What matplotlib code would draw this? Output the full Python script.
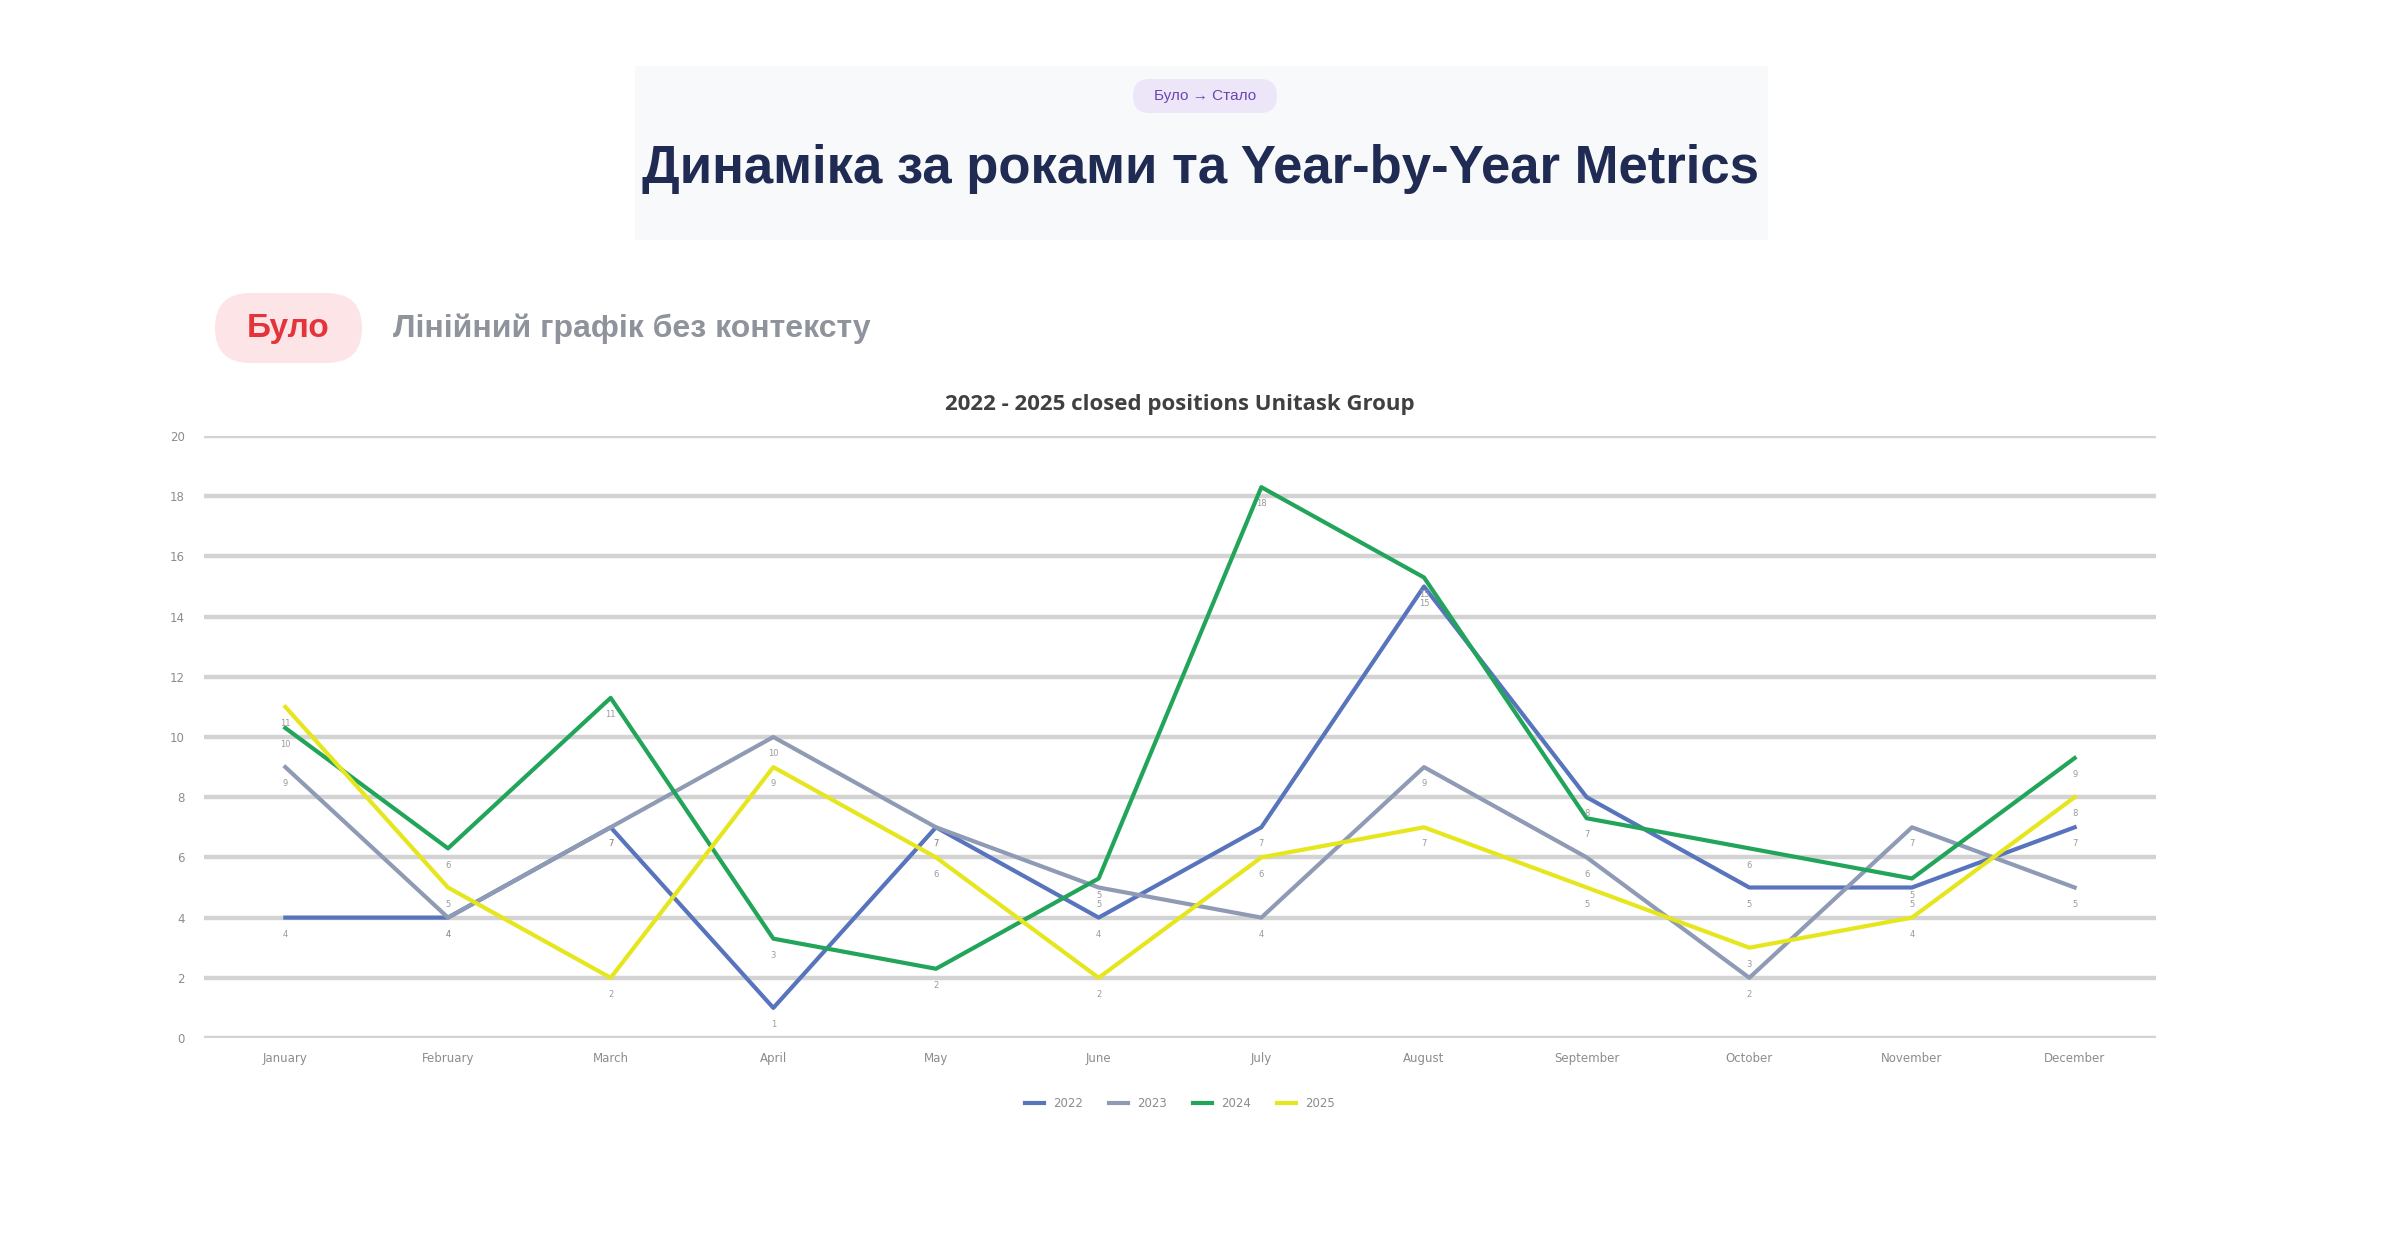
"""
Before/after slide: raw Excel-style line chart of closed positions 2022-2025.
"""

import matplotlib
matplotlib.use('Agg')
import matplotlib.pyplot as plt
from matplotlib.patches import FancyBboxPatch, Rectangle
import numpy as np

months = ['January', 'February', 'March', 'April', 'May', 'June', 'July',
          'August', 'September', 'October', 'November', 'December']
years = ['2022', '2023', '2024', '2025']
v2022 = [4, 4, 7, 1, 7, 4, 7, 15, 8, 5, 5, 7]
v2023 = [9, 4, 7, 10, 7, 5, 4, 9, 6, 2, 7, 5]
v2024 = [10.3, 6.3, 11.3, 3.3, 2.3, 5.3, 18.3, 15.3, 7.3, 6.3, 5.3, 9.3]
v2025 = [11, 5, 2, 9, 6, 2, 6, 7, 5, 3, 4, 8]
colors = ['#5874bd', '#8f9bb5', '#22a55a', '#e6e61e']

W, H = 2400, 1236
fig = plt.figure(figsize=(W / 100, H / 100), dpi=100)
fig.patch.set_facecolor('white')

# overlay in pixel coords for the slide decorations
bg = fig.add_axes([0, 0, 1, 1])
bg.axis('off')

bg.add_patch(Rectangle((635, 66), 1133, 174, color='#f8f9fa', lw=0))
bg.add_patch(FancyBboxPatch((1133, 79), 144, 34,
                            boxstyle='round,pad=0,rounding_size=17',
                            fc='#ece6f8', ec='none'))
bg.text(1205, 96, 'Було → Стало', ha='center', va='center', fontsize=11,
        color='#6b44b3', family='Liberation Sans')
bg.text(1201, 169, 'Динаміка за роками та Year-by-Year Metrics',
        ha='center', va='center', fontsize=38, fontweight='bold',
        color='#1f2b52', family='Liberation Sans')

grad = np.linspace(0, 1, 256).reshape(1, -1)
cmap = matplotlib.colors.LinearSegmentedColormap.from_list(
    'bar', ['#2b2f6b', '#7a2ec2', '#e3203a'])
bg.imshow(grad, cmap=cmap, aspect='auto', extent=(1150, 1260, 233, 228))
bg.set_xlim(0, W)
bg.set_ylim(H, 0)

bg.add_patch(FancyBboxPatch((215, 293), 147, 70,
                            boxstyle='round,pad=0,rounding_size=35',
                            fc='#fde5e7', ec='none'))
bg.text(288, 329, 'Було', ha='center', va='center', fontsize=24,
        fontweight='bold', color='#e3343b', family='Liberation Sans')
bg.text(393, 329, 'Лінійний графік без контексту', ha='left', va='center',
        fontsize=23, fontweight='bold', color='#8f939b',
        family='Liberation Sans')

# the chart itself
ax = fig.add_axes([204 / W, 1 - 1038 / H, (2156 - 204) / W, (1038 - 436) / H])
ax.patch.set_alpha(0)
x = np.arange(len(months))
for vals, yr, c in zip([v2022, v2023, v2024, v2025], years, colors):
    ax.plot(x, vals, color=c, lw=3, label=yr, zorder=3)
    for xi, v in zip(x, vals):
        ax.annotate(f'{round(v)}', (xi, v), xytext=(0, -12),
                    textcoords='offset points', ha='center', va='center',
                    fontsize=6, color='#9a9a9a', zorder=4)

ax.set_xlim(-0.5, 11.5)
ax.set_ylim(0, 20)
ax.set_yticks(range(0, 21, 2))
ax.set_xticks(x)
ax.set_xticklabels(months)
ax.tick_params(length=0, labelsize=8.5, colors='#8c8c8c')
ax.tick_params(axis='x', pad=10)
ax.tick_params(axis='y', pad=14)
ax.yaxis.grid(True, color='#d3d3d3', lw=3.2)
ax.set_axisbelow(True)
for s in ax.spines.values():
    s.set_visible(False)

ax.set_title('2022 - 2025 closed positions Unitask Group', fontsize=16,
             fontweight='bold', color='#404040', pad=19, family='Open Sans')
ax.legend(loc='upper center', bbox_to_anchor=(0.5, -0.08), ncol=4,
          frameon=False, fontsize=8.5, handlelength=1.6, columnspacing=2.2,
          labelcolor='#8c8c8c')

plt.savefig('out.png', dpi=100)
plt.close()
